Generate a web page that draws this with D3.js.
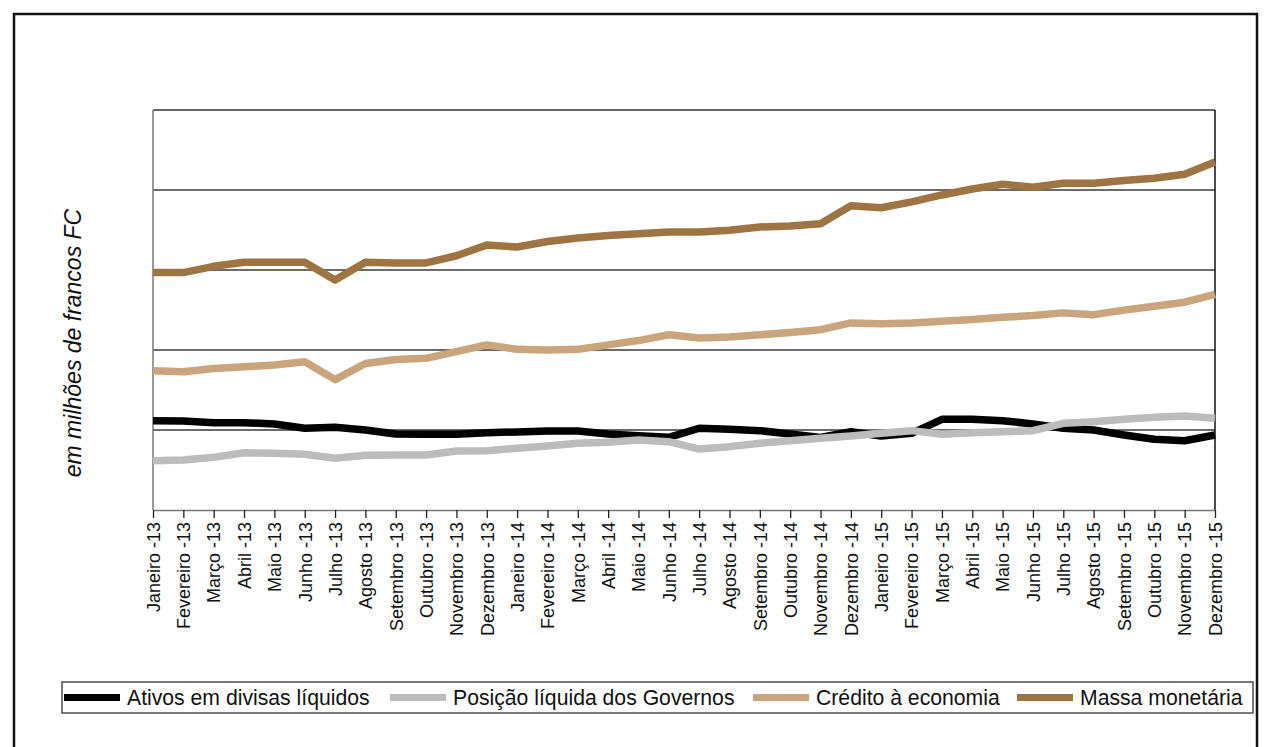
<!DOCTYPE html>
<html>
<head>
<meta charset="utf-8">
<script src="https://cdn.jsdelivr.net/npm/d3@7"></script>
<style>
  body { margin: 0; background: #fff; }
  svg { display: block; font-family: "Liberation Sans", Arial, sans-serif; }
</style>
</head>
<body>
<div id="graph_container"></div>
<script>
// months, Jan-2013 .. Dec-2015
var meses = ["Janeiro", "Fevereiro", "Março", "Abril", "Maio", "Junho",
             "Julho", "Agosto", "Setembro", "Outubro", "Novembro", "Dezembro"];
var anos  = ["13", "14", "15"];
var categorias = [];
anos.forEach(function(a) { meses.forEach(function(m) { categorias.push(m + " -" + a); }); });

// series (milhões de FC)
var ativos_divisas = [58, 56, 46, 46, 38, 11, 17, 0, -25, -27, -27, -17,
                      -12, -6, -6, -25, -36, -46, 11, 4, -4, -25, -46, -11,
                      -38, -21, 67, 67, 58, 38, 11, 0, -31, -58, -67, -31];
var posicao_governos = [-192, -188, -171, -142, -146, -152, -177, -158, -156, -156, -131, -129,
                        -114, -100, -83, -77, -63, -73, -119, -104, -83, -67, -52, -38,
                        -21, -4, -27, -17, -11, -4, 42, 52, 67, 79, 88, 73];
var credito_economia = [370, 364, 384, 395, 406, 427, 315, 416, 441, 448, 490, 532,
                        504, 500, 504, 532, 559, 595, 575, 581, 595, 610, 627, 669,
                        664, 669, 679, 690, 704, 715, 732, 721, 749, 774, 799, 848];
var massa_monetaria = [984, 984, 1023, 1048, 1048, 1048, 938, 1048, 1044, 1044, 1089, 1156,
                       1144, 1178, 1200, 1216, 1226, 1238, 1238, 1248, 1269, 1275, 1289, 1401,
                       1389, 1426, 1469, 1506, 1536, 1517, 1542, 1542, 1559, 1574, 1599, 1675];

var y_ticks = [0, 500, 1000, 1500];

var series = [
  { nome: "Ativos em divisas líquidos",   valores: ativos_divisas,   cor: "#000000" },
  { nome: "Posição líquida dos Governos", valores: posicao_governos, cor: "#bcbcbc" },
  { nome: "Crédito à economia",           valores: credito_economia, cor: "#c9a47c" },
  { nome: "Massa monetária",              valores: massa_monetaria,  cor: "#9e7442" }
];

var width  = 1270;
var height = 747;

var svg = d3.select("#graph_container").append("svg")
    .attr("width", width).attr("height", height);

// outer frame
svg.append("rect")
    .attr("x", 14).attr("y", 14)
    .attr("width", 1243).attr("height", 740)
    .attr("fill", "none").attr("stroke", "#111").attr("stroke-width", 2.5);

var plot = { left: 153, right: 1215, top: 110, bottom: 510 };

var x = d3.scalePoint().domain(categorias).range([plot.left, plot.right]);
var y = d3.scaleLinear().domain([-500, 2000]).range([plot.bottom, plot.top]);

// gridlines
svg.append("g").selectAll("line").data(y_ticks).enter().append("line")
    .attr("x1", plot.left).attr("x2", plot.right)
    .attr("y1", function(d) { return y(d); })
    .attr("y2", function(d) { return y(d); })
    .attr("stroke", "#3a3a3a").attr("stroke-width", 1.3);

// plot frame
svg.append("line").attr("x1", plot.left).attr("x2", plot.right)
    .attr("y1", plot.top).attr("y2", plot.top)
    .attr("stroke", "#333").attr("stroke-width", 1.3);
svg.append("line").attr("x1", plot.right).attr("x2", plot.right)
    .attr("y1", plot.top).attr("y2", plot.bottom)
    .attr("stroke", "#111").attr("stroke-width", 1.5);
svg.append("line").attr("x1", plot.left).attr("x2", plot.left)
    .attr("y1", plot.top).attr("y2", plot.bottom)
    .attr("stroke", "#777").attr("stroke-width", 1.5);

// x axis
var xAxis = svg.append("g")
    .attr("transform", "translate(0," + plot.bottom + ")")
    .call(d3.axisBottom(x).tickSize(8).tickSizeOuter(0));
xAxis.select(".domain").attr("stroke", "#777").attr("stroke-width", 1.5);
xAxis.selectAll(".tick line").attr("stroke", "#222").attr("stroke-width", 1.3);
xAxis.selectAll(".tick text")
    .attr("transform", "rotate(-90)")
    .attr("x", -12).attr("y", 0).attr("dy", "0.35em")
    .attr("text-anchor", "end")
    .attr("font-size", 18)
    .attr("fill", "#111")
    .attr("font-family", "Liberation Sans, Arial, sans-serif");

// y title
svg.append("text")
    .attr("transform", "translate(81,343) rotate(-90)")
    .attr("text-anchor", "middle")
    .attr("font-size", 23)
    .attr("font-style", "italic")
    .attr("fill", "#111")
    .text("em milhões de francos FC");

// lines
var line = d3.line()
    .x(function(d, i) { return x(categorias[i]); })
    .y(function(d) { return y(d); });

svg.append("g").selectAll("path").data(series).enter().append("path")
    .attr("d", function(s) { return line(s.valores); })
    .attr("fill", "none")
    .attr("stroke", function(s) { return s.cor; })
    .attr("stroke-width", 7.5)
    .attr("stroke-linejoin", "round");

// legend
var leg = svg.append("g");
leg.append("rect")
    .attr("x", 62).attr("y", 682).attr("width", 1191).attr("height", 31)
    .attr("fill", "#fff").attr("stroke", "#333").attr("stroke-width", 1.3);

var leg_x = [64, 390, 753, 1017];
series.forEach(function(s, i) {
  leg.append("line")
      .attr("x1", leg_x[i]).attr("x2", leg_x[i] + 56)
      .attr("y1", 697.5).attr("y2", 697.5)
      .attr("stroke", s.cor).attr("stroke-width", 7);
  leg.append("text")
      .attr("x", leg_x[i] + 63).attr("y", 705)
      .attr("font-size", 21.2)
      .attr("fill", "#111")
      .text(s.nome);
});
</script>
</body>
</html>
